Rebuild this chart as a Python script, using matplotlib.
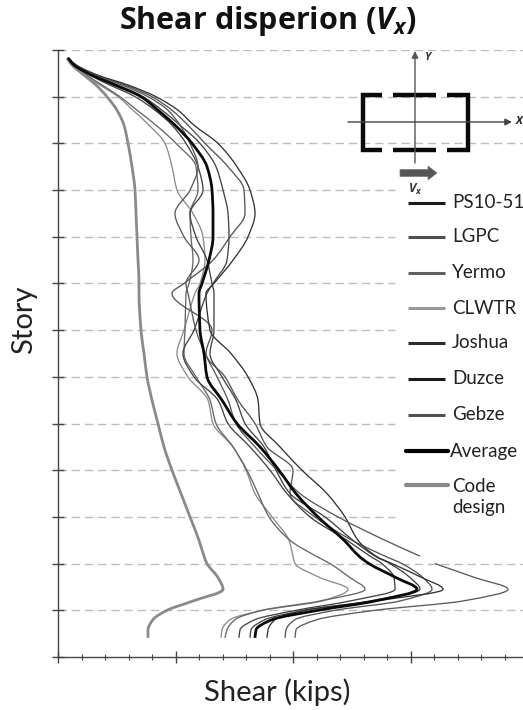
import matplotlib
matplotlib.use("Agg")
import numpy as np
from matplotlib import pyplot as plt
from matplotlib.patches import FancyArrow, PathPatch
from matplotlib.path import Path
from matplotlib.ticker import MultipleLocator

story = [12.83, 12.68, 12.46, 12.25, 12.0, 11.71, 11.39, 11.0, 10.5, 10.0, 9.5, 9.0, 8.5, 8.0,
         7.79, 7.0, 6.5, 6.0, 5.5, 5.0, 4.5, 4.0, 3.5, 3.0, 2.5, 2.16, 2.0, 1.7, 1.45, 1.2,
         1.0, 0.8, 0.58, 0.41]

ps10 = [10,18,40,70,98,120,136,160,179,192,197,190,175,156,148,152,173,190,200,202,222,244,269,287,300,318,334,364,385,317,246,217,210,209]
lgpc = [10,18,39,67,94,114,130,147,170,186,187,172,155,126,114,154,148,167,180,197,209,235,232,257,294,327,344,365,374,342,277,237,228,227]
yermo = [10,15,29,44,62,79,98,118,138,140,132,133,135,131,128,127,126,138,152,158,175,189,200,211,232,258,272,292,307,262,204,177,169,167]
clwtr = [9,14,27,42,60,75,91,107,114,119,135,145,147,142,137,126,119,130,150,155,175,188,197,214,231,235,237,262,290,264,205,172,164,163]
joshua = [10,17,37,60,85,104,122,142,158,165,170,171,169,155,149,136,125,136,160,170,192,212,229,252,289,312,324,336,337,292,238,197,182,181]
duzce = [10,16,32,52,77,97,114,128,140,145,132,138,149,154,156,156,152,164,178,187,206,218,232,267,295,317,332,352,362,312,247,207,193,192]
gebze = [10,18,38,64,90,110,122,132,140,132,117,126,141,128,130,138,147,159,170,178,197,219,242,280,327,362,377,417,450,405,317,259,238,237]
average = [10,16,34,57,83,100,117,134,149,154,155,155,151,144,141,142,146,149,164,179,202,221,238,260,286,301,311,338,359,317,260,214,198,197]
code_design = [9,14,26,38,49,59,66,70,74,77,78,79,80,81,81,83,86,89,94,100,106,114,123,132,141,146,149,160,165,135,109,95,90,90]

legend_labels = ["PS10-51", "LGPC", "Yermo", "CLWTR", "Joshua", "Duzce", "Gebze", "Average", "Code\ndesign"]
legend_colors = ["#1c1c1c", "#505050", "#606060", "#999999", "#2c2c2c", "#1c1c1c", "#505050", "#000000", "#888888"]
legend_rows = [203, 237, 273, 308, 343, 379, 415, 451, 485]


# Draw a record as bezier pieces so it is as smooth as the source,
# with a vertical tangent at each turn so peaks stay at the read value.
def curve(ax, vals, levels, **kw):
    x = np.array(vals, dtype=float)
    y = np.array(levels, dtype=float)
    slope = np.diff(x) / np.diff(y)
    d = np.zeros(len(x))
    d[0], d[-1] = slope[0], slope[-1]
    for k in range(1, len(x) - 1):
        if slope[k - 1] * slope[k] > 0:
            d[k] = 2 * slope[k - 1] * slope[k] / (slope[k - 1] + slope[k])
    verts = [(x[0], y[0])]
    codes = [Path.MOVETO]
    for k in range(len(x) - 1):
        h = (y[k + 1] - y[k]) / 3
        verts += [(x[k] + d[k] * h, y[k] + h), (x[k + 1] - d[k + 1] * h, y[k + 1] - h), (x[k + 1], y[k + 1])]
        codes += [Path.CURVE4] * 3
    ax.add_patch(PathPatch(Path(verts, codes), fill=False, capstyle="butt", **kw))


plt.rcParams["font.family"] = ["Lato", "DejaVu Sans"]
plt.rcParams["mathtext.fontset"] = "custom"
plt.rcParams["mathtext.bfit"] = "Open Sans:italic:bold"
plt.rcParams["mathtext.it"] = "Open Sans:italic:bold"

fig = plt.figure(figsize=(5.23, 7.10), dpi=100)
W, H = 523, 710
ax = fig.add_axes([58/W, 1 - 657/H, 465/W, 607/H])
ax.set_xlim(0, 465)
ax.set_ylim(0, 13)

for s in range(1, 14):
    full = s in (1, 2, 11, 12, 13)
    ax.plot([0, 465 if full else 337], [s, s], color="#bdbdbd", lw=1.0, dashes=(6, 3.5), zorder=1)

for vals, c in [(clwtr, "#8c8c8c"), (yermo, "#666666"), (lgpc, "#555555"), (joshua, "#444444"),
                (duzce, "#444444"), (ps10, "#333333")]:
    curve(ax, vals, story, edgecolor=c, lw=0.95, zorder=2)
# the Gebze record is broken just above story 2 in the source
curve(ax, gebze[:26], story[:26], edgecolor="#5a5a5a", lw=0.95, zorder=2)
curve(ax, gebze[26:], story[26:], edgecolor="#5a5a5a", lw=0.95, zorder=2)
curve(ax, code_design, story, edgecolor="#8a8a8a", lw=2.0, zorder=3)
curve(ax, average, story, edgecolor="#0a0a0a", lw=2.0, zorder=4)

for side in ("top", "right"):
    ax.spines[side].set_visible(False)
for side in ("left", "bottom"):
    ax.spines[side].set_color("#444444")
    ax.spines[side].set_linewidth(1.0)
ax.xaxis.set_major_locator(MultipleLocator(117.5))
ax.xaxis.set_minor_locator(MultipleLocator(23.5))
ax.yaxis.set_major_locator(MultipleLocator(1))
ax.tick_params(axis="x", which="major", direction="inout", length=8, width=1, color="#444444", labelbottom=False)
ax.tick_params(axis="x", which="minor", direction="inout", length=5, width=0.8, color="#444444")
ax.tick_params(axis="y", which="major", direction="inout", length=8, width=1, color="#444444", labelleft=False)

# overlay in reference pixels for the plan sketch and the hand placed key
ov = fig.add_axes([0, 0, 1, 1])
ov.set_xlim(0, W)
ov.set_ylim(H, 0)
ov.axis("off")
ov.patch.set_alpha(0)

ov.annotate("", xy=(415, 51), xytext=(415, 163), arrowprops=dict(arrowstyle="-|>", color="#555555", lw=1.0, mutation_scale=10, shrinkA=0, shrinkB=0))
ov.annotate("", xy=(512, 122), xytext=(348, 122), arrowprops=dict(arrowstyle="-|>", color="#444444", lw=1.0, mutation_scale=10, shrinkA=0, shrinkB=0))
ov.text(428, 58, "Y", fontsize=8, style="italic", weight="bold", color="#333333", ha="center", va="center", family="Open Sans")
ov.text(519, 122, "X", fontsize=8, style="italic", weight="bold", color="#222222", ha="center", va="center", family="Open Sans")

wall = dict(color="#0a0a0a", lw=3.2, solid_capstyle="butt", solid_joinstyle="miter")
ov.plot([382, 363, 363, 382], [95, 95, 150, 150], **wall)
ov.plot([447, 468, 468, 447], [95, 95, 150, 150], **wall)
ov.plot([393, 436], [95, 95], **wall)
ov.plot([393, 436], [150, 150], **wall)
ov.add_patch(FancyArrow(400, 173, 37, 0, width=7, head_width=14, head_length=9, length_includes_head=True,
                        facecolor="#555555", edgecolor="#777777", lw=0.5))
ov.text(415, 189, "$V_x$", fontsize=9, color="#333333", ha="center", va="center")

for label, c, py in zip(legend_labels, legend_colors, legend_rows):
    thick = label in ("Average", "Code\ndesign")
    ov.plot([406 if thick else 408, 448 if thick else 445], [py, py], color=c, lw=3.0 if thick else 2.2,
            solid_capstyle="round" if thick else "butt")
    ov.text(452 if label != "Average" else 450, py if "\n" not in label else py - 7, label, fontsize=13.5, color="#222222", ha="left",
            va="center" if "\n" not in label else "top", linespacing=1.25)

fig.text(268/W, 1 - 21/H, r"Shear disperion ($\mathbfit{V_x}$)", fontsize=22, weight="bold", family="Open Sans",
         color="#111111", ha="center", va="center")
fig.text(24/W, 1 - 320/H, "Story", fontsize=21, rotation=90, color="#222222", ha="center", va="center")
fig.text(277/W, 1 - 692/H, "Shear (kips)", fontsize=21, color="#222222", ha="center", va="center")

fig.savefig("out.png", dpi=100)
